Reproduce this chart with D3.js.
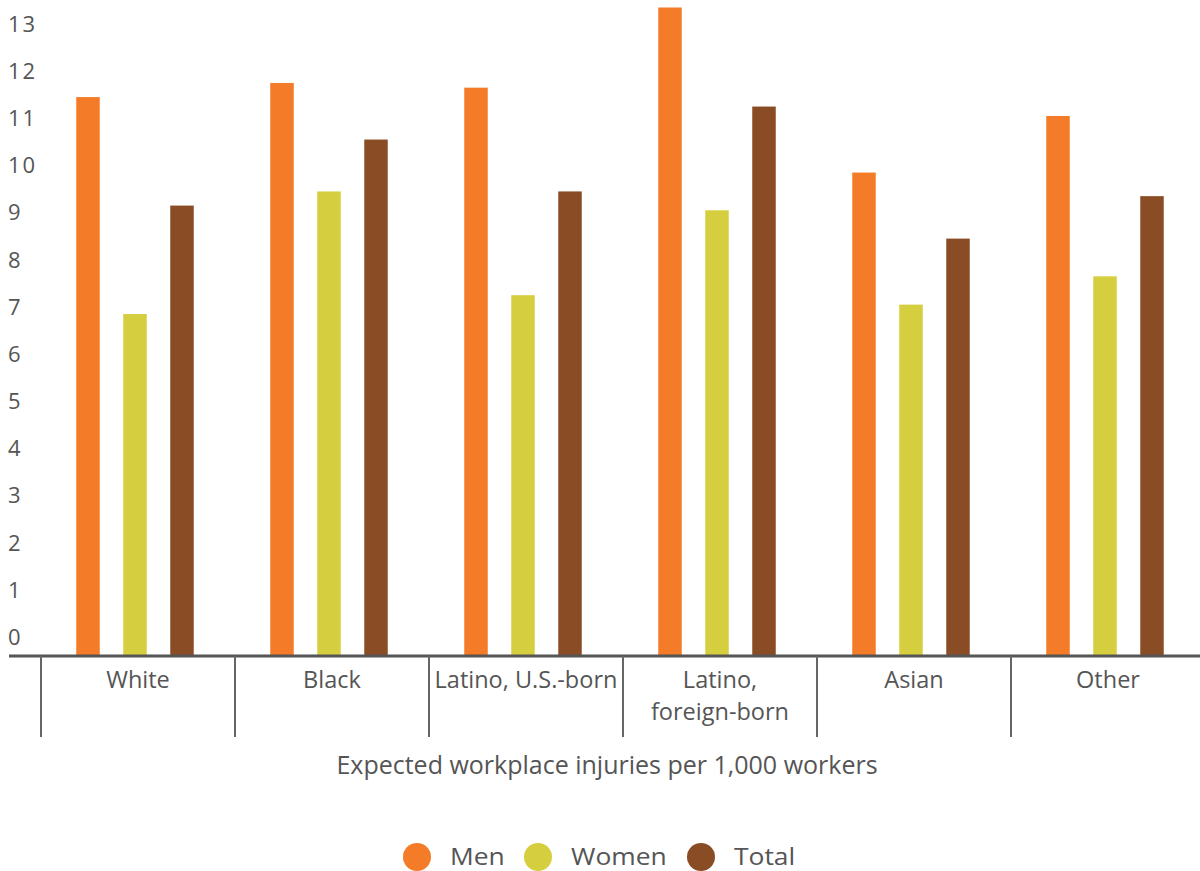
<!DOCTYPE html>
<html>
<head>
<meta charset="utf-8">
<script src="https://cdn.jsdelivr.net/npm/d3@7"></script>
<style>
  body { margin: 0; background: #fff; }
  text { font-family: "Open Sans", sans-serif; fill: #555; }
</style>
</head>
<body>
<svg id="chart"></svg>
<script>
let width = 1200;
let height = 871;

// data
let categories = ["White", "Black", "Latino, U.S.-born", "Latino, foreign-born", "Asian", "Other"];
let categoryLines = [["White"], ["Black"], ["Latino, U.S.-born"], ["Latino,", "foreign-born"], ["Asian"], ["Other"]];
let seriesNames = ["Men", "Women", "Total"];
let men = [11.45, 11.75, 11.65, 13.35, 9.85, 11.05];
let women = [6.85, 9.45, 7.25, 9.05, 7.05, 7.65];
let total = [9.15, 10.55, 9.45, 11.25, 8.45, 9.35];
let yTicks = [0, 1, 2, 3, 4, 5, 6, 7, 8, 9, 10, 11, 12, 13];
let colors = ["#f47b27", "#d5cf3f", "#8a4c24"];
let axisTitle = "Expected workplace injuries per 1,000 workers";

let seriesValues = [men, women, total];

let svg = d3.select("#chart")
    .attr("width", width)
    .attr("height", height);

let baseY = 656;
let y = d3.scaleLinear().domain([-0.4, 13]).range([baseY, 24]);
let x = d3.scaleBand().domain(categories).range([41, 1205]);
let xSub = d3.scaleBand().domain(seriesNames).range([0, 188])
    .paddingInner(0.5).paddingOuter(0.75);

// y tick labels
svg.append("g")
    .selectAll("text")
    .data(yTicks)
    .join("text")
    .attr("x", 8)
    .attr("y", d => y(d))
    .attr("dy", "0.35em")
    .attr("font-size", 22)
    .attr("textLength", d => d >= 10 ? 27 : null)
    .text(d => d);

// bars
let groups = svg.append("g")
    .selectAll("g")
    .data(categories)
    .join("g")
    .attr("transform", d => `translate(${x(d)},0)`);

groups.selectAll("rect")
    .data((d, i) => seriesNames.map((s, j) => ({ s: s, v: seriesValues[j][i], c: colors[j] })))
    .join("rect")
    .attr("x", d => xSub(d.s))
    .attr("width", xSub.bandwidth())
    .attr("y", d => y(d.v))
    .attr("height", d => baseY - y(d.v))
    .attr("fill", d => d.c);

// axis line and category dividers
svg.append("line")
    .attr("x1", 9).attr("x2", width)
    .attr("y1", baseY).attr("y2", baseY)
    .attr("stroke", "#555")
    .attr("stroke-width", 3);

svg.append("g")
    .selectAll("line")
    .data(categories)
    .join("line")
    .attr("x1", d => x(d)).attr("x2", d => x(d))
    .attr("y1", baseY).attr("y2", 737)
    .attr("stroke", "#666")
    .attr("stroke-width", 2);

// category labels
svg.append("g")
    .selectAll("text")
    .data(categories)
    .join("text")
    .attr("x", d => x(d) + x.bandwidth() / 2)
    .attr("y", 680)
    .attr("text-anchor", "middle")
    .attr("font-size", 23.5)
    .each(function(d, i) {
        d3.select(this).selectAll("tspan")
            .data(categoryLines[i])
            .join("tspan")
            .attr("x", x(d) + x.bandwidth() / 2)
            .attr("y", (t, k) => 680 + k * 32)
            .attr("dy", "0.35em")
            .text(t => t);
    });

svg.append("text")
    .attr("x", 607)
    .attr("y", 765)
    .attr("dy", "0.35em")
    .attr("text-anchor", "middle")
    .attr("font-size", 25)
    .text(axisTitle);

// legend
let legendX = [417, 538, 701];
let legend = svg.append("g")
    .selectAll("g")
    .data(seriesNames)
    .join("g")
    .attr("transform", (d, i) => `translate(${legendX[i]},857)`);

legend.append("circle")
    .attr("r", 14)
    .attr("fill", (d, i) => colors[i]);

legend.append("text")
    .attr("x", 33)
    .attr("y", 8)
    .attr("font-size", 24)
    .text(d => d)
    .each(function() {
        // the legend text in the original is a little wider than its height suggests
        let w = this.getComputedTextLength();
        d3.select(this).attr("textLength", w * 1.1).attr("lengthAdjust", "spacingAndGlyphs");
    });
</script>
</body>
</html>
